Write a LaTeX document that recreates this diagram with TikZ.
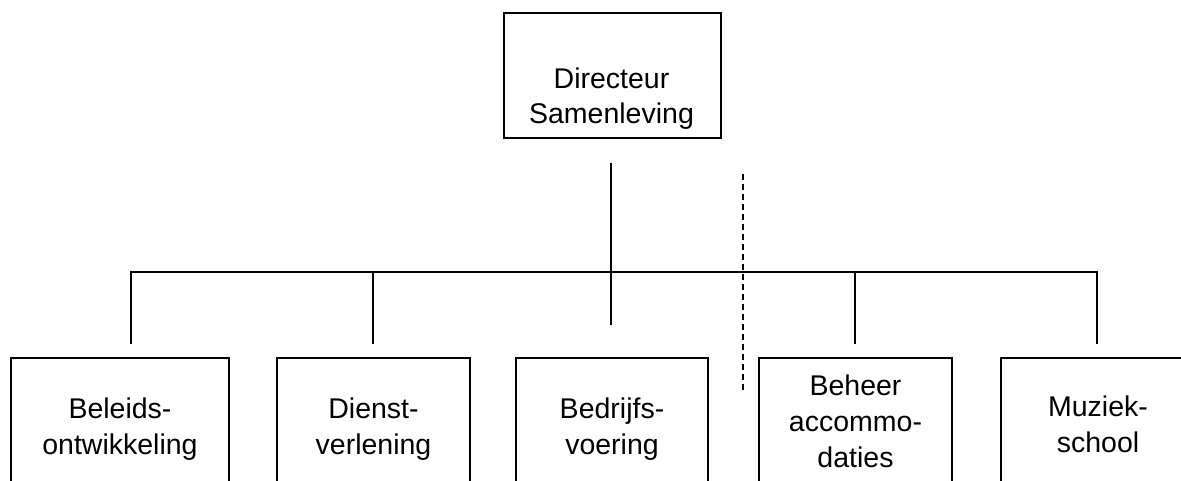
\documentclass[tikz,border=0pt]{standalone}
\usepackage{fontspec}
\setmainfont{Liberation Sans}
\begin{document}
\begin{tikzpicture}[x=1pt,y=-1pt,
  line width=2pt,
  box/.style={draw,line width=2pt,anchor=north west,inner sep=0pt,
    align=center,font=\fontsize{28.5}{36}\selectfont},
  lbl/.style={inner sep=0pt,align=center,font=\fontsize{28.5}{35}\selectfont},
  conn/.style={draw,line width=2pt},
  sep/.style={draw,line width=2pt,dash pattern=on 6pt off 4pt}]
\useasboundingbox (0,0) rectangle (1181,480);
\clip (0,0) rectangle (1181,480);
% top box
\node[box,minimum width=217pt,minimum height=125pt] (dir) at (503,12) {};
\node[lbl] (dirtext) at (611.5,98.6) {Directeur\\Samenleving};
% bottom boxes
\node[box,minimum width=218pt,minimum height=141.4pt] (b1) at (10,357) {Beleids-\\ontwikkeling};
\node[box,minimum width=193pt,minimum height=141.4pt] (b2) at (276,357) {Dienst-\\verlening};
\node[box,minimum width=192pt,minimum height=141.4pt] (b3) at (515,357) {Bedrijfs-\\voering};
\node[box,minimum width=193pt,minimum height=127pt] (b4) at (758,357) {Beheer\\accommo-\\daties};
\node[box,minimum width=194pt,minimum height=132pt] (b5) at (1000,357) {Muziek-\\school};
% connector coordinates
\coordinate (top) at (611,163);
\coordinate (bot) at (611,325);
\coordinate (busL) at (131,272);
\coordinate (busR) at (1097,272);
\coordinate (s1) at (131,344);
\coordinate (s2b) at (373,272);
\coordinate (s2) at (373,344);
\coordinate (s4b) at (855,272);
\coordinate (s4) at (855,344);
\coordinate (s5) at (1097,344);
\coordinate (dA) at (743,174);
\coordinate (dB) at (743,392);
\path[conn] (top) -- (bot);
\path[conn] (s1) -- (busL) -- (busR) -- (s5);
\path[conn] (s2b) -- (s2);
\path[conn] (s4b) -- (s4);
\path[sep] (dA) -- (dB);
\end{tikzpicture}
\end{document}
